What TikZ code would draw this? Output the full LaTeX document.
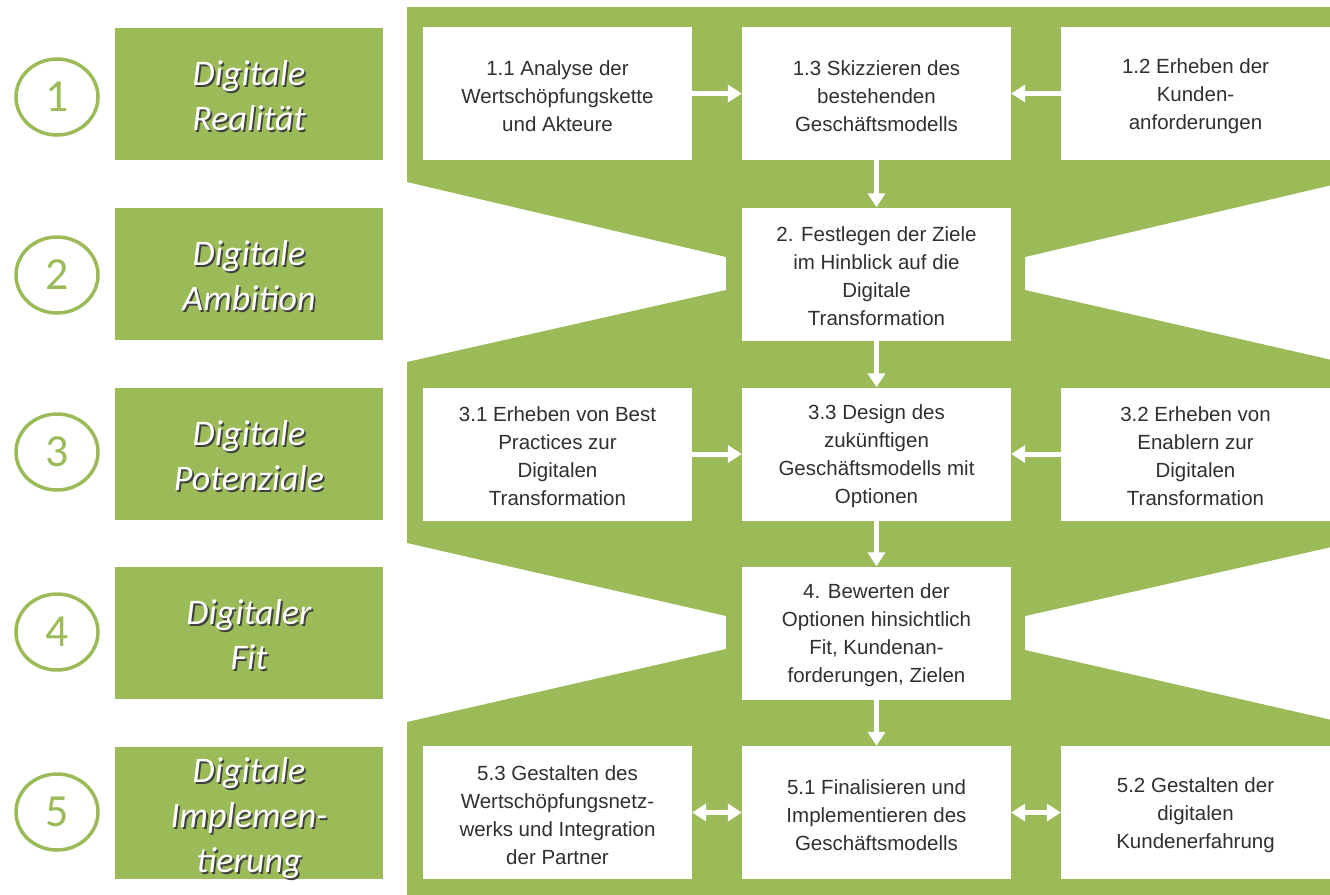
\documentclass[tikz,border=0pt]{standalone}
\usepackage{fontspec}
\setmainfont{Liberation Sans}
\newfontfamily\calibri{Carlito}
\usetikzlibrary{arrows.meta,shapes.geometric}
\definecolor{grn}{HTML}{9BBB59}
\definecolor{txt}{HTML}{303030}
% taller first line, so the text block sits a little below the box centre
\newcommand\firstline{\rule{0pt}{20pt}}
\tikzset{
  stagebox/.style={fill=white, draw=none, minimum width=269pt, minimum height=133pt,
    inner sep=0pt, align=center, text=txt, font=\fontsize{20.5}{28}\selectfont},
  phasebox/.style={fill=grn, draw=none, minimum width=268pt, minimum height=132pt, inner sep=0pt},
  phasetxt/.style={text=white, align=center, inner sep=0pt, yshift=-2pt,
    font=\calibri\itshape\fontsize{36}{45}\selectfont},
  phaseshadow/.style={phasetxt, text=black!75, xshift=1.8pt, yshift=-1.8pt},
  numring/.style={ellipse, draw=grn, line width=3.5pt, minimum width=82pt, minimum height=76pt,
    inner sep=0pt, text=grn, font=\calibri\fontsize{46}{46}\selectfont},
  flow/.style={white, line width=5pt, -{Triangle[length=14pt,width=17pt]}},
  flowboth/.style={white, line width=5pt, {Triangle[length=14pt,width=17pt]}-{Triangle[length=14pt,width=17pt]}},
}
\begin{document}
\begin{tikzpicture}[x=1pt,y=-1pt]
\useasboundingbox (0,0) rectangle (1330,894);
\begin{scope}
\clip (0,0) rectangle (1330,894);
% green backdrop with the two pairs of notches
\fill[grn] (407,7) -- (1345,7) -- (1345,182) -- (1025,257) -- (1025,290) -- (1345,363)
  -- (1345,544) -- (1025,616) -- (1025,650) -- (1345,723) -- (1345,900) -- (407,900)
  -- (407,722) -- (726,649) -- (726,616) -- (407,543) -- (407,362) -- (726,290)
  -- (726,257) -- (407,182) -- cycle;

% process steps
\node[stagebox] (b11) at (557.5,93.5) {\firstline 1.1 Analyse der\\Wertschöpfungskette\\und Akteure};
\node[stagebox] (b13) at (876.5,93.5) {\firstline 1.3 Skizzieren des\\bestehenden\\Geschäftsmodells};
\node[stagebox] (b12) at (1195.5,93.5) {\firstline 1.2 Erheben der\\Kunden-\\anforderungen};
\node[stagebox] (b2) at (876.5,274) {\firstline 2. Festlegen der Ziele\\im Hinblick auf die\\Digitale\\Transformation};
\node[stagebox] (b31) at (557.5,454) {\firstline 3.1 Erheben von Best\\Practices zur\\Digitalen\\Transformation};
\node[stagebox] (b33) at (876.5,454) {\firstline 3.3 Design des\\zukünftigen\\Geschäftsmodells mit\\Optionen};
\node[stagebox] (b32) at (1195.5,454) {\firstline 3.2 Erheben von\\Enablern zur\\Digitalen\\Transformation};
\node[stagebox] (b4) at (876.5,633) {\firstline 4. Bewerten der\\Optionen hinsichtlich\\Fit, Kundenan-\\forderungen, Zielen};
\node[stagebox] (b53) at (557.5,812.5) {\firstline 5.3 Gestalten des\\Wertschöpfungsnetz-\\werks und Integration\\der Partner};
\node[stagebox] (b51) at (876.5,812.5) {\firstline 5.1 Finalisieren und\\Implementieren des\\Geschäftsmodells};
\node[stagebox] (b52) at (1195.5,812.5) {\firstline 5.2 Gestalten der\\digitalen\\Kundenerfahrung};

% connectors
\draw[flow] (b11.east) -- (b13.west);
\draw[flow] (b12.west) -- (b13.east);
\draw[flow] (b13.south) -- (b2.north);
\draw[flow] (b2.south) -- (b33.north);
\draw[flow] (b31.east) -- (b33.west);
\draw[flow] (b32.west) -- (b33.east);
\draw[flow] (b33.south) -- (b4.north);
\draw[flow] (b4.south) -- (b51.north);
\draw[flowboth] (b53.east) -- (b51.west);
\draw[flowboth] (b51.east) -- (b52.west);
\end{scope}

% phase labels
\node[phasebox] (p1) at (249,94) {};
\node[phasebox] (p2) at (249,274) {};
\node[phasebox] (p3) at (249,454) {};
\node[phasebox] (p4) at (249,633) {};
\node[phasebox] (p5) at (249,812.5) {};
\foreach \p/\t/\dy in {p1/{Digitale\\Realität}/0, p2/{Digitale\\Ambition}/0, p3/{Digitale\\Potenziale}/0,
                   p4/{Digitaler\\Fit}/0, p5/{Digitale\\Implemen-\\tierung}/-4}{
  \node[phaseshadow, yshift=\dy pt] (\p s) at (\p) {\t};
  \node[phasetxt, yshift=\dy pt] (\p t) at (\p) {\t};
}

% phase numbers
\node[numring] (n1) at (57,97) {1};
\node[numring] (n2) at (57,275) {2};
\node[numring] (n3) at (57,452) {3};
\node[numring] (n4) at (57,632) {4};
\node[numring] (n5) at (57,812) {5};
\end{tikzpicture}
\end{document}
